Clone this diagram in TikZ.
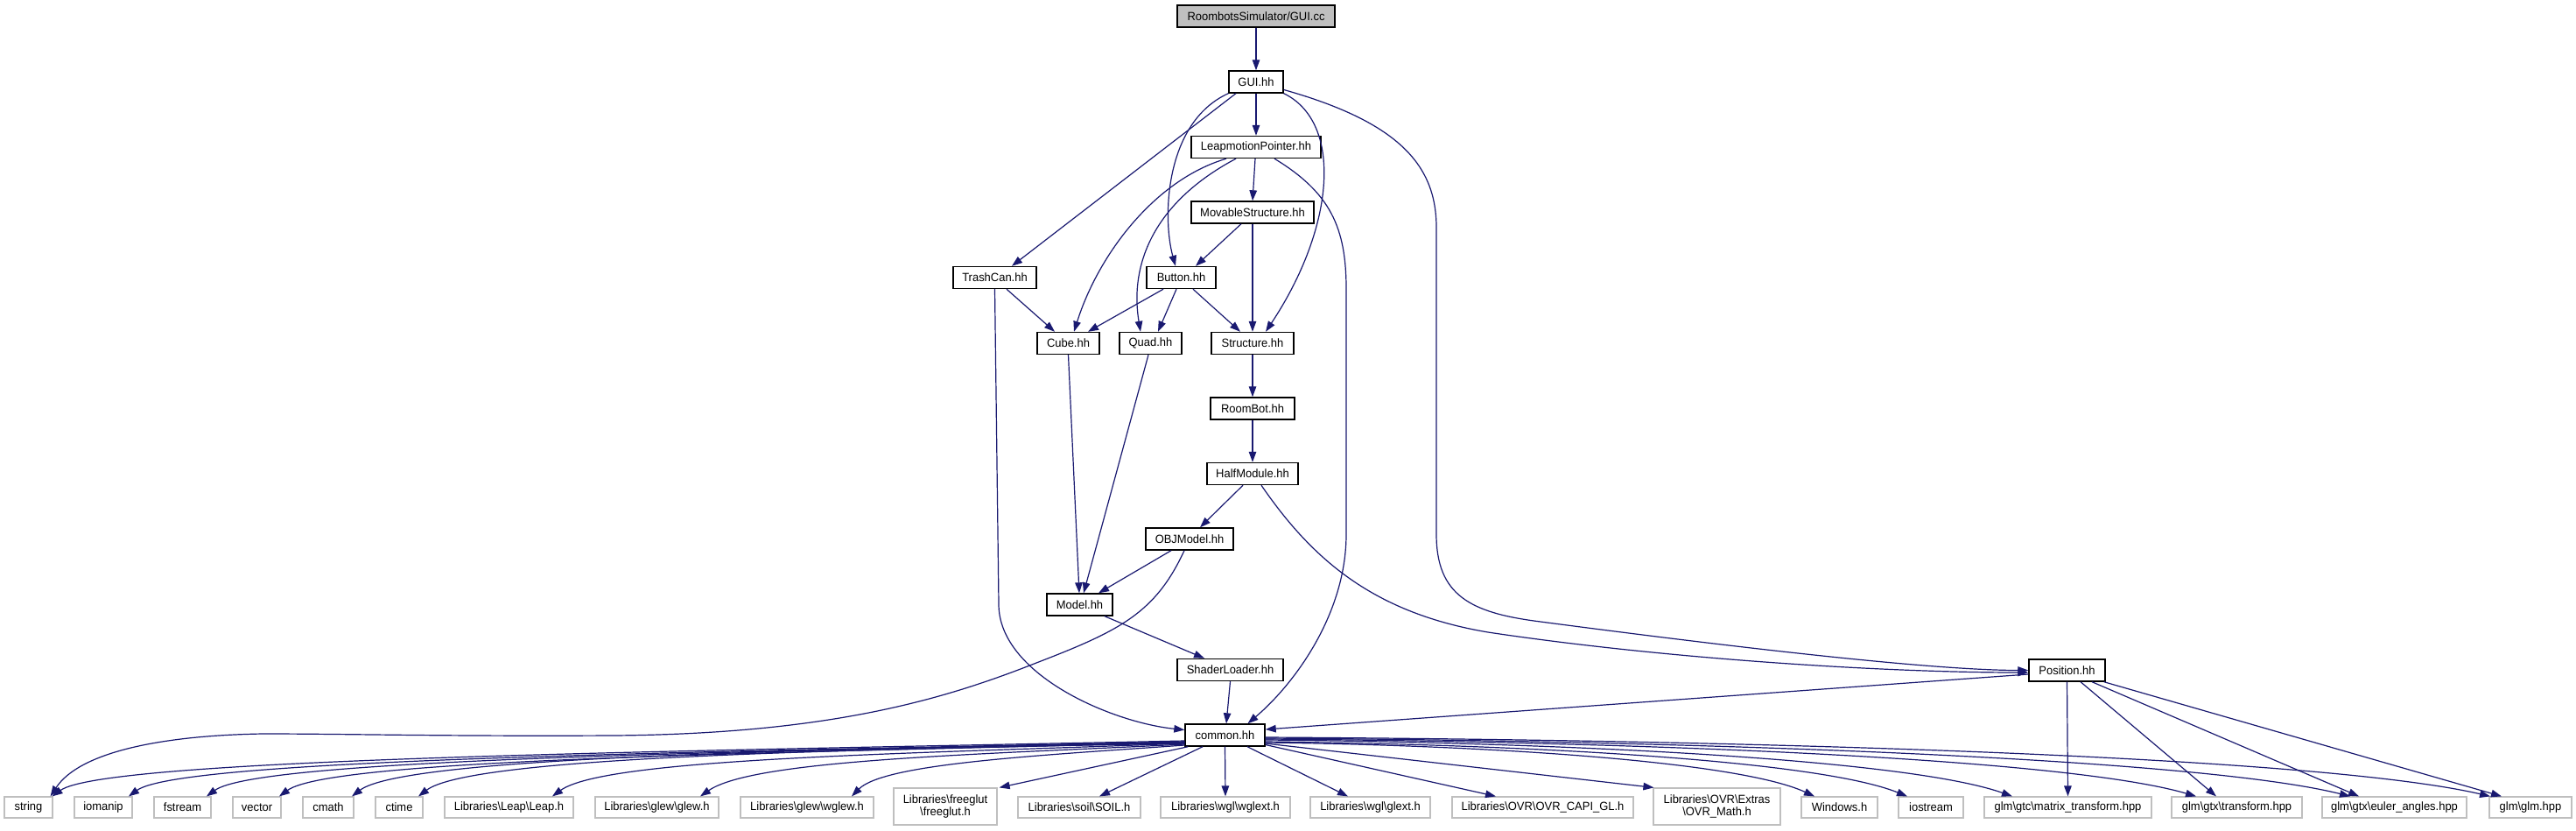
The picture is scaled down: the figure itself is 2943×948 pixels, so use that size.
\documentclass[tikz,border=0pt]{standalone}
\usepackage{fontspec}
\setmainfont{Liberation Sans}[FakeStretch=0.96]
\usetikzlibrary{arrows.meta}
\definecolor{edgec}{HTML}{191970}
\definecolor{graybd}{HTML}{BFBFBF}
\definecolor{rootfill}{HTML}{BFBFBF}
\newcommand{\bk}{\textbackslash{}}
\begin{document}
\begin{tikzpicture}[x=1pt,y=-1pt,
  nd/.style={draw=black, line width=1.4pt, fill=white, minimum height=25pt, inner sep=0pt, font=\fontsize{13.5pt}{14.5pt}\selectfont},
  ext/.style={draw=graybd, line width=1.2pt, fill=white, minimum height=24pt, inner sep=0pt, align=center, font=\fontsize{13.5pt}{14.5pt}\selectfont},
  edge/.style={draw=edgec, line width=1.2pt, -{Triangle[length=12pt,width=8.5pt]}},
]
\useasboundingbox[fill=white] (0,0) rectangle (2943,948);

% main nodes
\node[nd,fill=rootfill,minimum width=180pt] (gcc) at (1435,18.5) {RoombotsSimulator/GUI.cc};
\node[nd,minimum width=62pt] (guih) at (1435,93.5) {GUI.hh};
\node[nd,minimum width=148pt] (leap) at (1435,168) {LeapmotionPointer.hh};
\node[nd,minimum width=140pt] (mov) at (1431,242.5) {MovableStructure.hh};
\node[nd,minimum width=95pt] (trash) at (1136.5,317) {TrashCan.hh};
\node[nd,minimum width=79pt] (button) at (1349.5,317) {Button.hh};
\node[nd,minimum width=71pt] (cube) at (1220.5,392) {Cube.hh};
\node[nd,minimum width=71pt] (quad) at (1314.5,392) {Quad.hh};
\node[nd,minimum width=94pt] (struct) at (1431,392) {Structure.hh};
\node[nd,minimum width=96pt] (roombot) at (1431,466.5) {RoomBot.hh};
\node[nd,minimum width=104pt] (half) at (1431,541) {HalfModule.hh};
\node[nd,minimum width=100pt] (obj) at (1359,615.5) {OBJModel.hh};
\node[nd,minimum width=75pt] (model) at (1233.5,690.5) {Model.hh};
\node[nd,minimum width=121pt] (shader) at (1405.5,765) {ShaderLoader.hh};
\node[nd,minimum width=87pt] (position) at (2361.5,765.5) {Position.hh};
\node[nd,minimum width=91pt] (common) at (1399.5,839.5) {common.hh};

% external headers
\node[ext,minimum width=55pt] (string) at (32.5,922) {string};
\node[ext,minimum width=66pt] (iomanip) at (118,922) {iomanip};
\node[ext,minimum width=65pt] (fstream) at (208.5,922) {fstream};
\node[ext,minimum width=55pt] (vector) at (293.5,922) {vector};
\node[ext,minimum width=58pt] (cmath) at (375,922) {cmath};
\node[ext,minimum width=54pt] (ctime) at (456,922) {ctime};
\node[ext,minimum width=147pt] (leaph) at (581.5,922) {Libraries\bk Leap\bk Leap.h};
\node[ext,minimum width=141pt] (glew) at (750.5,922) {Libraries\bk glew\bk glew.h};
\node[ext,minimum width=152pt] (wglew) at (922,922) {Libraries\bk glew\bk wglew.h};
\node[ext,minimum width=118pt,minimum height=42pt] (freeglut) at (1080,921) {Libraries\bk freeglut\\\bk freeglut.h};
\node[ext,minimum width=140pt] (soil) at (1233,922) {Libraries\bk soil\bk SOIL.h};
\node[ext,minimum width=148pt] (wglext) at (1400,922) {Libraries\bk wgl\bk wglext.h};
\node[ext,minimum width=137pt] (glext) at (1565.5,922) {Libraries\bk wgl\bk glext.h};
\node[ext,minimum width=207pt] (ovrcapi) at (1762.5,922) {Libraries\bk OVR\bk OVR\_CAPI\_GL.h};
\node[ext,minimum width=145pt,minimum height=42pt] (ovrmath) at (1961.5,921) {Libraries\bk OVR\bk Extras\\\bk OVR\_Math.h};
\node[ext,minimum width=87pt] (windows) at (2101.5,922) {Windows.h};
\node[ext,minimum width=74pt] (iostream) at (2206,922) {iostream};
\node[ext,minimum width=191pt] (matrix) at (2362.5,922) {glm\bk gtc\bk matrix\_transform.hpp};
\node[ext,minimum width=149pt] (transform) at (2555.5,922) {glm\bk gtx\bk transform.hpp};
\node[ext,minimum width=165pt] (euler) at (2735.5,922) {glm\bk gtx\bk euler\_angles.hpp};
\node[ext,minimum width=94pt] (glm) at (2891,922) {glm\bk glm.hpp};

% edges among project headers
\draw[edge] (gcc) -- (guih);
\draw[edge] (guih) -- (leap);
\draw[edge] ([xshift=-23pt]guih.south) -- ([xshift=19.5pt]trash.north);
\draw[edge] (guih.south west) .. controls (1330,140) and (1328,250) .. ([xshift=-6.5pt]button.north);
\draw[edge] (guih.south east) .. controls (1535,140) and (1525,260) .. ([xshift=15pt]struct.north);
\draw[edge] ([yshift=-9pt]guih.east) .. controls (1600,140) and (1641,190) .. (1641,260) -- (1641,610)
   .. controls (1641,680) and (1680,700) .. (1760,710) .. controls (1950,735) and (2200,765.5) .. (position.west);
\draw[edge] ([xshift=-1pt]leap.south) -- (mov.north);
\draw[edge] ([xshift=-34pt]leap.south) .. controls (1320,205) and (1255,290) .. ([xshift=6.5pt]cube.north);
\draw[edge] ([xshift=-23pt]leap.south) .. controls (1320,230) and (1290,300) .. ([xshift=-11.5pt]quad.north);
\draw[edge] ([xshift=21pt]leap.south) .. controls (1520,220) and (1538,260) .. (1538,330) -- (1538,610)
   .. controls (1538,700) and (1480,780) .. ([xshift=26pt]common.north);
\draw[edge] ([xshift=-13pt]mov.south) -- ([xshift=16.5pt]button.north);
\draw[edge] (mov) -- (struct);
\draw[edge] ([xshift=13.5pt]trash.south) -- ([xshift=-15.5pt]cube.north);
\draw[edge] (trash.south) -- (1141,690) .. controls (1141,770) and (1270,825) .. ([yshift=6pt]common.west);
\draw[edge] ([xshift=-20.5pt]button.south) -- ([xshift=22.5pt]cube.north);
\draw[edge] ([xshift=-5.5pt]button.south) -- ([xshift=8.5pt]quad.north);
\draw[edge] ([xshift=13.5pt]button.south) -- ([xshift=-14pt]struct.north);
\draw[edge] (cube.south) -- ([xshift=-0.5pt]model.north);
\draw[edge] ([xshift=-2.5pt]quad.south) -- ([xshift=4.5pt]model.north);
\draw[edge] (struct) -- (roombot);
\draw[edge] (roombot) -- (half);
\draw[edge] ([xshift=-11pt]half.south) -- ([xshift=12pt]obj.north);
\draw[edge] ([xshift=10pt]half.south) .. controls (1500,640) and (1570,700) .. (1700,722)
   .. controls (1900,752) and (2150,768) .. ([yshift=-2.5pt]position.west);
\draw[edge] ([xshift=-21pt]obj.south) -- ([xshift=21.5pt]model.north);
\draw[edge] ([xshift=-6pt]obj.south) .. controls (1320,700) and (1280,720) .. (1184,757)
   .. controls (1080,798) and (950,838) .. (700,840) .. controls (500,841) and (400,838) .. (300,838)
   .. controls (180,840) and (90,860) .. ([xshift=-3pt]string.north east);
\draw[edge] ([xshift=28.5pt]model.south) -- ([xshift=-29.5pt]shader.north);
\draw[edge] (shader.south) -- ([xshift=1.5pt]common.north);
\draw[edge] ([yshift=-4.5pt]position.west) -- ([yshift=6.5pt]common.east);
\draw[edge] (position.south) -- (matrix.north);
\draw[edge] ([xshift=15.5pt]position.south) -- ([xshift=-23.5pt]transform.north);
\draw[edge] ([xshift=28.5pt]position.south) -- ([xshift=-40.5pt]euler.north);
\draw[edge] ([xshift=-2pt]position.south east) -- ([xshift=-33pt]glm.north);

% common.hh fan, left
\draw[edge] ([yshift=-6.5pt]common.west) .. controls (772,858) and (120,866) .. ([xshift=-1pt]string.north east);
\draw[edge] ([yshift=-7.5pt]common.west) .. controls (811,859) and (207,866) .. ([xshift=29pt]iomanip.north);
\draw[edge] ([yshift=-7.5pt]common.west) .. controls (851,859) and (296,866) .. ([xshift=27.5pt]fstream.north);
\draw[edge] ([yshift=-8.5pt]common.west) .. controls (888,860) and (379,866) .. ([xshift=25.5pt]vector.north);
\draw[edge] ([yshift=-8.5pt]common.west) .. controls (926,856) and (462,864) .. ([xshift=27pt]cmath.north);
\draw[edge] ([yshift=-9.5pt]common.west) .. controls (960,856) and (538,864) .. ([xshift=22pt]ctime.north);
\draw[edge] ([yshift=-9.5pt]common.west) .. controls (1029,861) and (691,866) .. ([xshift=49.5pt]leaph.north);
\draw[edge] ([yshift=-10.5pt]common.west) .. controls (1105,862) and (860,868) .. ([xshift=49.5pt]glew.north);
\draw[edge] ([yshift=-11.5pt]common.west) .. controls (1183,863) and (1010,872) .. ([xshift=51pt]wglew.north);
% common.hh fan, below
\draw[edge] ([xshift=4pt]common.south west) -- ([xshift=2pt]freeglut.north east);
\draw[edge] ([xshift=-25.5pt]common.south) -- ([xshift=23pt]soil.north);
\draw[edge] (common.south) -- (wglext.north);
\draw[edge] ([xshift=25.5pt]common.south) -- ([xshift=-25.5pt]glext.north);
\draw[edge] ([yshift=-11pt]common.east) -- ([xshift=-53.5pt]ovrcapi.north);
\draw[edge] ([yshift=-9.5pt]common.east) -- ([xshift=1pt]ovrmath.north west);
% common.hh fan, right
\draw[edge] ([yshift=-8.5pt]common.east) .. controls (1696,851) and (1985,869) .. ([xshift=-28.5pt]windows.north);
\draw[edge] ([yshift=-7.5pt]common.east) .. controls (1739,850) and (2076,868) .. ([xshift=-27pt]iostream.north);
\draw[edge] ([yshift=-5.5pt]common.east) .. controls (1787,848) and (2179,867) .. ([xshift=-63.5pt]matrix.north);
\draw[edge] ([yshift=-4.5pt]common.east) .. controls (1871,847) and (2360,866) .. ([xshift=-46.5pt]transform.north);
\draw[edge] ([yshift=-3.5pt]common.east) .. controls (1941,846) and (2511,866) .. ([xshift=-50.5pt]euler.north);
\draw[edge] ([yshift=-2.5pt]common.east) .. controls (2005,845) and (2649,864) .. ([xshift=-46pt]glm.north);
\end{tikzpicture}
\end{document}
